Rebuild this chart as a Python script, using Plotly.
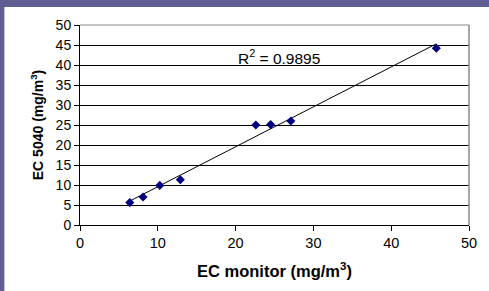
import numpy as np
import plotly.graph_objects as go

ec_monitor = [6.4, 8.1, 10.25, 12.9, 22.6, 24.5, 27.1, 45.8]
ec_5040 = [5.6, 7.0, 9.9, 11.3, 25.0, 25.1, 26.0, 44.2]
r2_label = "R<sup>2</sup> = 0.9895"
x_title = "<b>EC monitor (mg/m<sup>3</sup>)</b>"
y_title = "<b>EC 5040 (mg/m<sup>3</sup>)</b>"
x_ticks = [0, 10, 20, 30, 40, 50]
y_ticks = [0, 5, 10, 15, 20, 25, 30, 35, 40, 45, 50]

x = np.array(ec_monitor)
y = np.array(ec_5040)
slope, intercept = np.polyfit(x, y, 1)
xl = np.array([x.min(), x.max()])
yl = slope * xl + intercept

fig = go.Figure()
fig.add_trace(go.Scatter(x=xl, y=yl, mode="lines",
                         line=dict(color="black", width=1), showlegend=False, hoverinfo="skip"))
fig.add_trace(go.Scatter(x=ec_monitor, y=ec_5040, mode="markers",
                         marker=dict(symbol="diamond", size=7, color="#000080"),
                         showlegend=False))

L, R, T, B = 80, 18, 25, 66
W, H = 489, 291
pw, ph = W - L - R, H - T - B

def px(xp):
    return (xp - L) / pw

def py(yp):
    return (H - B - yp) / ph

FONT = "Arial, Liberation Sans"
purple = "#5e5e92"
fig.add_shape(type="rect", xref="paper", yref="paper",
              x0=px(-5), x1=px(W + 5), y0=py(7), y1=py(-5),
              fillcolor=purple, line=dict(width=0), layer="above")
fig.add_shape(type="rect", xref="paper", yref="paper",
              x0=px(-5), x1=px(4), y0=py(H + 5), y1=py(-5),
              fillcolor=purple, line=dict(width=0), layer="above")
fig.add_shape(type="line", xref="paper", yref="paper", x0=0, x1=1, y0=1, y1=1,
              line=dict(color="#888888", width=1))
fig.add_shape(type="line", xref="paper", yref="paper", x0=1, x1=1, y0=0, y1=1,
              line=dict(color="#888888", width=1.5))

fig.add_annotation(x=25.6, y=42.1, text=r2_label, showarrow=False,
                   font=dict(family=FONT, size=15.5, color="black"))
fig.add_annotation(xref="paper", yref="paper", x=px(275.5), y=py(270),
                   xanchor="center", yanchor="middle", text=x_title, showarrow=False,
                   font=dict(family=FONT, size=16.5, color="black"))
fig.add_annotation(xref="paper", yref="paper", x=px(37), y=py(125),
                   xanchor="center", yanchor="middle", text=y_title, showarrow=False,
                   textangle=-90, font=dict(family=FONT, size=14, color="black"))

fig.update_layout(
    width=W, height=H,
    margin=dict(l=L, r=R, t=T, b=B),
    paper_bgcolor="white", plot_bgcolor="white",
    font=dict(family=FONT, size=14, color="black"),
    xaxis=dict(range=[0, 50], tickvals=x_ticks, showgrid=False, zeroline=False,
               showline=True, linecolor="black", linewidth=1,
               ticks="outside", ticklen=5, tickcolor="black",
               tickfont=dict(size=14.5)),
    yaxis=dict(range=[0, 50], tickvals=y_ticks, showgrid=True, gridcolor="black", gridwidth=1,
               zeroline=False, showline=True, linecolor="black", linewidth=1,
               ticks="outside", ticklen=5, tickcolor="black",
               tickfont=dict(size=14)),
)

fig.write_html("out.html", config={"displayModeBar": False},
               post_script="document.body.style.margin='0';document.body.style.overflow='hidden';")
